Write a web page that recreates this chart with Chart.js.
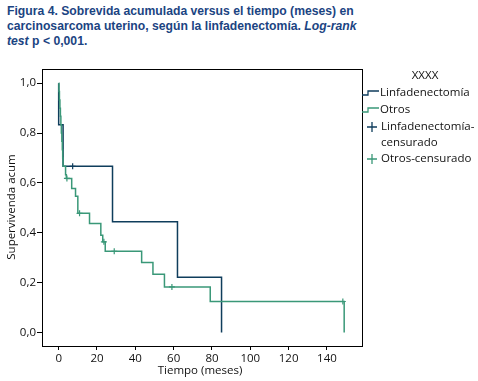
<!DOCTYPE html>
<html>
<head>
<meta charset="utf-8">
<script src="https://cdn.jsdelivr.net/npm/chart.js@4/dist/chart.umd.min.js"></script>
<style>
  html, body { margin: 0; padding: 0; background: #fff; }
  #wrap { position: relative; width: 478px; height: 381px; }
  #title { position: absolute; left: 7px; top: 4px; width: 470px; font-family: "Liberation Sans", Arial, sans-serif; font-weight: bold; font-size: 12.2px; line-height: 15px; color: #1b4482; }
  canvas { position: absolute; left: 0; top: 0; }
</style>
</head>
<body>
<div id="wrap">
  <div id="title">Figura 4. Sobrevida acumulada versus el tiempo (meses) en<br>carcinosarcoma uterino, según la linfadenectomía. <i>Log-rank<br>test</i> p &lt; 0,001.</div>
  <canvas id="c" width="478" height="381"></canvas>
</div>
<script>
// ---- data ----
const seriesNames = ["Linfadenectomía", "Otros"];
const censorNames = ["Linfadenectomía-\ncensurado", "Otros-censurado"];
const legendTitle = "XXXX";
const xTickValues = [0, 20, 40, 60, 80, 100, 120, 140];
const yTickValues = [0, 0.2, 0.4, 0.6, 0.8, 1.0];

const linfTimes = [0, 0, 2.3, 28.1, 62.0, 85.0];
const linfSurv  = [1.0, 0.833, 0.667, 0.444, 0.222, 0.0];
const linfCensTimes = [7.3];
const linfCensSurv  = [0.667];

const otrosTimes = [0, 0.15, 0.4, 0.65, 0.9, 1.15, 1.4, 1.65, 1.9, 2.1, 2.3, 3.6, 4.0, 6.8, 8.8, 10.0, 16.1, 22.0, 23.0, 24.3, 43.3, 49.2, 55.2, 79.1, 149.0];
const otrosSurv  = [1.0, 0.967, 0.933, 0.9, 0.867, 0.833, 0.8, 0.767, 0.733, 0.7, 0.667, 0.633, 0.618, 0.578, 0.547, 0.478, 0.437, 0.39, 0.364, 0.326, 0.281, 0.234, 0.183, 0.1245, 0.0];
const otrosCensTimes = [4.3, 10.9, 23.6, 29.0, 59.1, 148.3];
const otrosCensSurv  = [0.618, 0.478, 0.364, 0.326, 0.183, 0.1245];

const colLinf = "#0f3d5c";
const colOtros = "#3a9878";

const toPts = (t, s) => t.map((v, i) => ({ x: v, y: s[i] }));

const font = '"Open Sans", "DejaVu Sans", sans-serif';

const extras = {
  id: "extras",
  afterDraw(chart) {
    const ctx = chart.ctx;
    const a = chart.chartArea;
    ctx.save();
    // frame
    ctx.strokeStyle = "#000";
    ctx.lineWidth = 1;
    ctx.strokeRect(Math.round(a.left) + 0.5, Math.round(a.top) + 0.5, Math.round(a.right - a.left), Math.round(a.bottom - a.top));
    // axis titles
    ctx.fillStyle = "#111";
    ctx.font = "11.5px " + font;
    ctx.textAlign = "center";
    ctx.textBaseline = "middle";
    ctx.fillText("Tiempo (meses)", 200, 371);
    ctx.save();
    ctx.translate(12, 207);
    ctx.rotate(-Math.PI / 2);
    ctx.fillText("Supervivenda acum", 0, 0);
    ctx.restore();
    // legend
    ctx.fillText(legendTitle, 425, 76);
    ctx.textAlign = "left";
    const sym = (y, col) => {
      ctx.strokeStyle = col; ctx.lineWidth = 1.3;
      ctx.beginPath();
      ctx.moveTo(362, y + 2); ctx.lineTo(368, y + 2); ctx.lineTo(368, y - 2); ctx.lineTo(379, y - 2);
      ctx.stroke();
    };
    const cross = (x, y, col) => {
      ctx.strokeStyle = col; ctx.lineWidth = 1.3;
      ctx.beginPath();
      ctx.moveTo(x - 5, y); ctx.lineTo(x + 5, y);
      ctx.moveTo(x, y - 5); ctx.lineTo(x, y + 5);
      ctx.stroke();
    };
    sym(93, colLinf);
    ctx.fillText(seriesNames[0], 380, 93);
    sym(110, colOtros);
    ctx.fillText(seriesNames[1], 380, 110);
    cross(372, 127, colLinf);
    const ln = censorNames[0].split("\n");
    ctx.fillText(ln[0], 381, 127);
    ctx.fillText(ln[1], 381, 143);
    cross(372, 159, colOtros);
    ctx.fillText(censorNames[1], 381, 159);
    ctx.restore();
  }
};

new Chart(document.getElementById("c"), {
  type: "line",
  data: {
    datasets: [
      { label: seriesNames[1], data: toPts(otrosTimes, otrosSurv), borderColor: colOtros, borderWidth: 1.5, stepped: "before", pointRadius: 0, fill: false },
      { label: seriesNames[0], data: toPts(linfTimes, linfSurv), borderColor: colLinf, borderWidth: 1.5, stepped: "before", pointRadius: 0, fill: false },
      { type: "scatter", label: "oc", data: toPts(otrosCensTimes, otrosCensSurv), pointStyle: "cross", pointRadius: 3, borderColor: colOtros, borderWidth: 1.2, showLine: false },
      { type: "scatter", label: "lc", data: toPts(linfCensTimes, linfCensSurv), pointStyle: "cross", pointRadius: 3, borderColor: colLinf, borderWidth: 1.2, showLine: false }
    ]
  },
  options: {
    responsive: false,
    animation: false,
    devicePixelRatio: 1,
    layout: { padding: { top: 69, right: 116, left: 0, bottom: 0 } },
    plugins: { legend: { display: false }, tooltip: { enabled: false }, title: { display: false } },
    scales: {
      x: {
        type: "linear", min: -8.7, max: 158.3,
        afterBuildTicks: s => { s.ticks = xTickValues.map(v => ({ value: v })); },
        afterFit: s => { s.height = 35; },
        grid: { drawOnChartArea: false, drawTicks: true, tickLength: 4, color: "#000" },
        border: { display: false },
        ticks: { color: "#111", font: { family: font, size: 11.5 }, padding: 2, maxRotation: 0, callback: v => String(v) }
      },
      y: {
        type: "linear", min: -0.054, max: 1.057,
        afterBuildTicks: s => { s.ticks = yTickValues.map(v => ({ value: v })); },
        afterFit: s => { s.width = 42; },
        grid: { drawOnChartArea: false, drawTicks: true, tickLength: 5, color: "#000" },
        border: { display: false },
        ticks: { color: "#111", font: { family: font, size: 11.5 }, padding: 1, callback: v => v.toFixed(1).replace(".", ",") }
      }
    }
  },
  plugins: [extras]
});
</script>
</body>
</html>
